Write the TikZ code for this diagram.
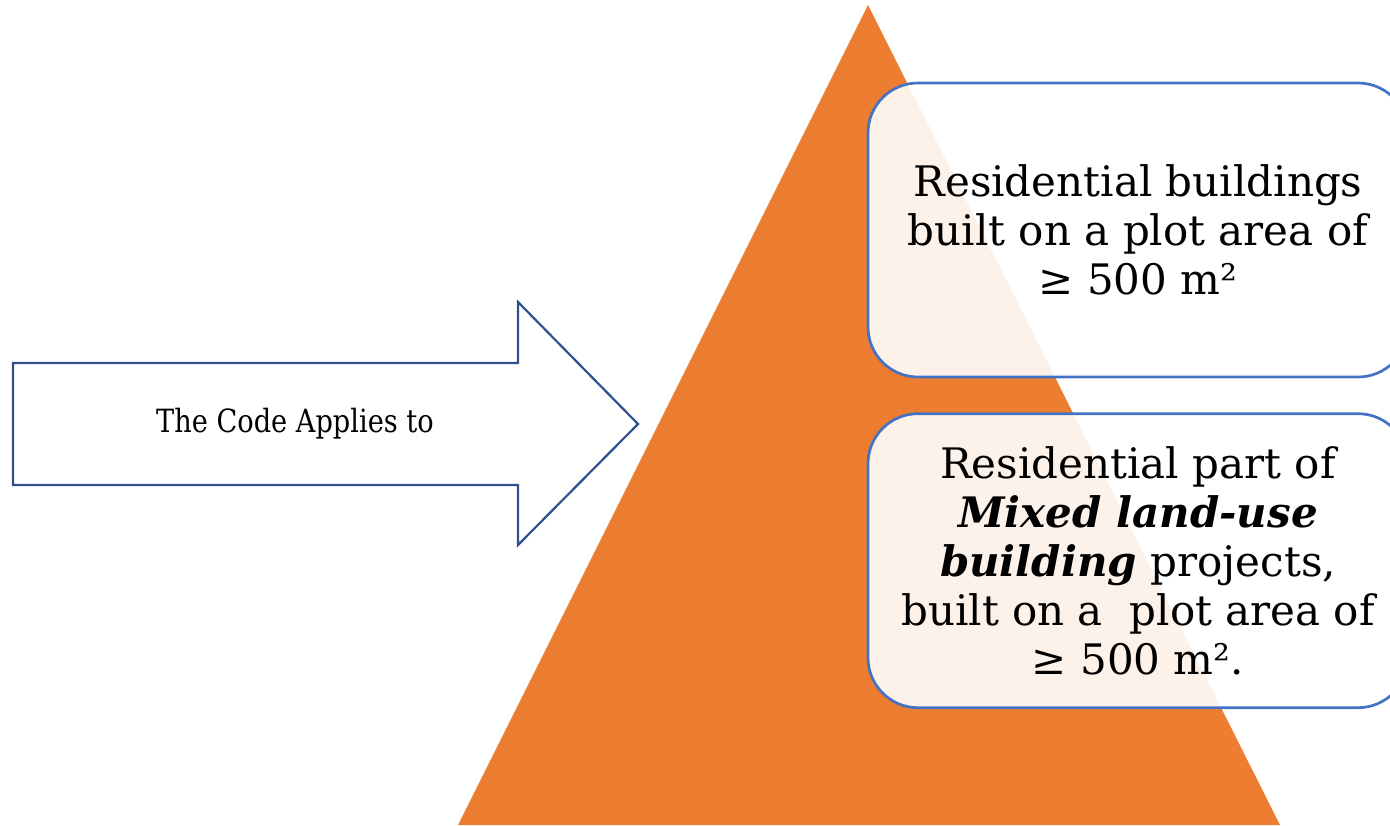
\documentclass[tikz,border=0pt]{standalone}
\usepackage{fontspec}
\setmainfont{DejaVu Serif}
\newfontfamily\narrowfont[FakeStretch=0.85]{DejaVu Serif}
\usepackage{xcolor}
\definecolor{codeorange}{HTML}{ED7D31}
\definecolor{codeblue}{HTML}{4472C4}
\definecolor{codedark}{HTML}{2F528F}
\usetikzlibrary{positioning}

\begin{document}
\begin{tikzpicture}[x=1pt, y=-1pt,
  scopebox/.style={rectangle, rounded corners=50pt, draw=codeblue, line width=2.7pt,
    fill=white, fill opacity=0.9, text opacity=1,
    minimum width=540pt, minimum height=294pt, align=center,
    font=\fontsize{42}{49}\selectfont},
  bigarrow/.style={draw=codedark, line width=2.2pt, fill=white, line join=miter}
]
\useasboundingbox (0,0) rectangle (1390,825);
% pyramid
\fill[codeorange] (868,5) -- (1280,825) -- (458,825) -- cycle;
% arrow pointing at the pyramid
\draw[bigarrow] (13,363) -- (518,363) -- (518,302) -- (638,424)
  -- (518,545) -- (518,485) -- (13,485) -- cycle;
\node[font=\narrowfont\fontsize{32}{36}\selectfont] (applies) at (295,424)
  {The Code Applies to};
% scope boxes
\node[scopebox] (plot) at (1138,230)
  {Residential buildings\\built on a plot area of\\≥ 500 m²};
\node[scopebox, below=34pt of plot] (mixed)
  {Residential part of\\\textbf{\textit{Mixed land-use}}\\\textbf{\textit{building}} projects,\\built on a\ \ plot area of\\≥ 500 m².};
\end{tikzpicture}
\end{document}
